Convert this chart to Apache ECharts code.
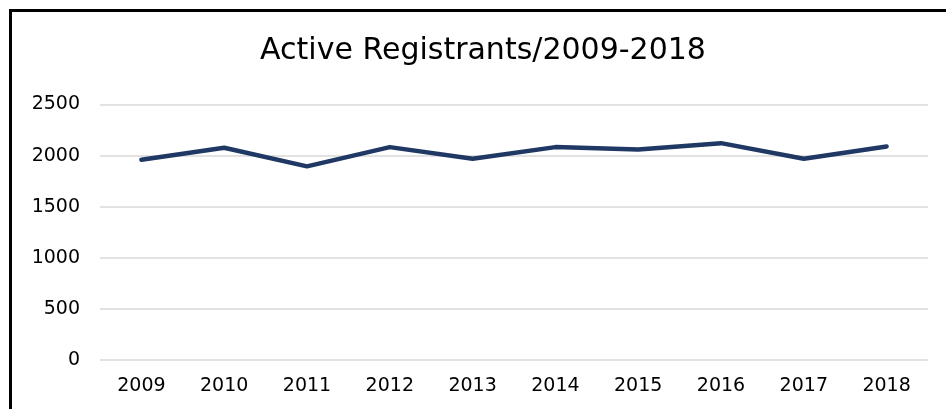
<!DOCTYPE html>
<html><head><meta charset="utf-8">
<script src="https://cdn.jsdelivr.net/npm/echarts@6/dist/echarts.min.js"></script>
<style>
html,body{margin:0;padding:0;background:#fff;width:946px;height:409px;overflow:hidden;}
#frame{position:absolute;left:9px;top:9px;width:960px;height:420px;border-left:3px solid #000;border-top:3px solid #000;}
#chart{position:absolute;left:0;top:0;width:946px;height:409px;}
</style></head>
<body>
<div id="frame"></div>
<div id="chart"></div>
<script>
const titleText = "Active Registrants/2009-2018";
const years = ["2009","2010","2011","2012","2013","2014","2015","2016","2017","2018"];
const registrants = [1960, 2077, 1895, 2083, 1970, 2083, 2060, 2122, 1970, 2090];
const yMin = 0, yMax = 2500, yStep = 500;

const chart = echarts.init(document.getElementById('chart'), null, {renderer:'canvas'});
const font = "'DejaVu Sans', sans-serif";
chart.setOption({
  animation:false,
  backgroundColor:'transparent',
  title:{text:titleText,left:478,textAlign:'center',top:31,
    textStyle:{fontFamily:font,fontSize:30,fontWeight:'normal',color:'#000'}},
  grid:{left:100,right:18,top:104.5,bottom:49},
  xAxis:{type:'category',data:years,boundaryGap:true,
    axisLine:{show:false},axisTick:{show:false},
    axisLabel:{fontFamily:font,fontSize:19,color:'#000',margin:17}},
  yAxis:{type:'value',min:yMin,max:yMax,interval:yStep,
    axisLine:{show:false},axisTick:{show:false},
    splitLine:{lineStyle:{color:'#d9d9d9',width:1.5}},
    axisLabel:{fontFamily:font,fontSize:19,color:'#000',margin:20,formatter:v=>String(v)}},
  series:[{type:'line',data:registrants,symbol:'none',
    lineStyle:{color:'#1f3864',width:4.5,cap:'round',join:'round'}}]
});
</script>
</body></html>
